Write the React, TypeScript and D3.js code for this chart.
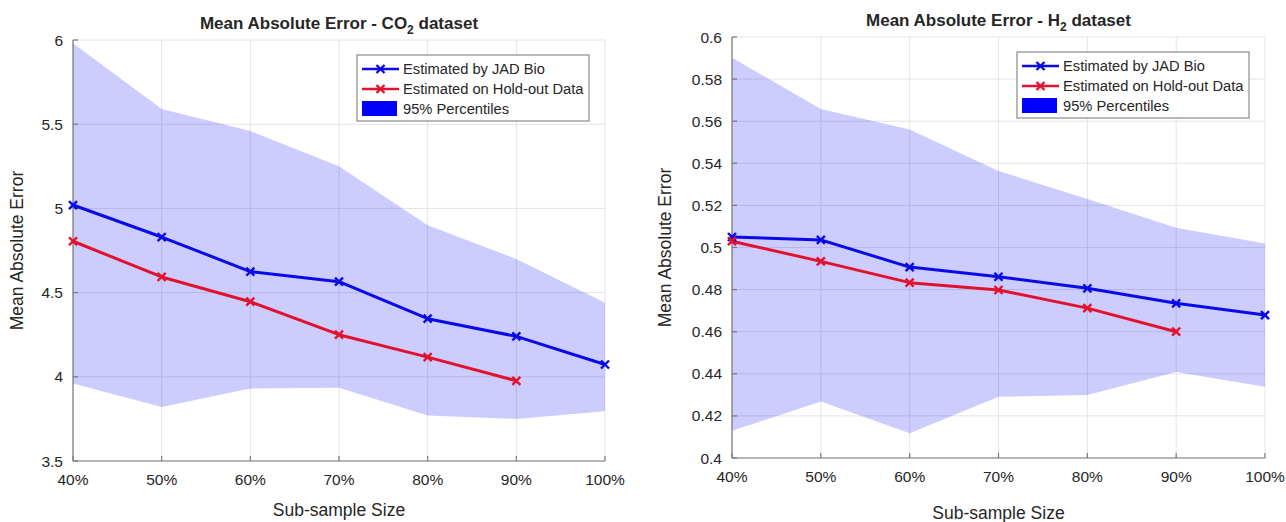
import React from 'react';
import * as d3 from 'd3';

const sizes = ['40%', '50%', '60%', '70%', '80%', '90%', '100%'];

const co2Jad = [5.02, 4.83, 4.625, 4.565, 4.345, 4.24, 4.073];
const co2Holdout = [4.805, 4.593, 4.446, 4.25, 4.117, 3.976];
const co2Upper = [5.98, 5.59, 5.46, 5.25, 4.9, 4.7, 4.44];
const co2Lower = [3.96, 3.82, 3.93, 3.935, 3.77, 3.75, 3.795];
const co2YTicks = [3.5, 4, 4.5, 5, 5.5, 6];

const h2Jad = [0.505, 0.5036, 0.4907, 0.4861, 0.4806, 0.4735, 0.4679];
const h2Holdout = [0.503, 0.4934, 0.4833, 0.4798, 0.4712, 0.46];
const h2Upper = [0.5902, 0.5658, 0.556, 0.5364, 0.523, 0.5094, 0.5019];
const h2Lower = [0.4129, 0.4269, 0.4118, 0.4291, 0.4299, 0.4408, 0.4338];
const h2YTicks = [0.4, 0.42, 0.44, 0.46, 0.48, 0.5, 0.52, 0.54, 0.56, 0.58, 0.6];

const legendLabels = ['Estimated by JAD Bio', 'Estimated on Hold-out Data', '95% Percentiles'];

const BLUE = '#0a0ae8';
const RED = '#e2122e';
const TEXT = '#262626';
const FONT = '"Liberation Sans", Arial, Helvetica, sans-serif';

type PanelProps = {
  x0: number; x1: number; y0: number; y1: number;
  ticks: number[];
  jad: number[]; hold: number[]; upper: number[]; lower: number[];
  sub: string;
  yTitleX: number;
  xTitleY: number;
  titleY: number;
};

function Marker({ x, y, color }: { x: number; y: number; color: string }) {
  const s = 4;
  return (
    <g stroke={color} strokeWidth={2.4}>
      <line x1={x - s} y1={y - s} x2={x + s} y2={y + s} />
      <line x1={x - s} y1={y + s} x2={x + s} y2={y - s} />
    </g>
  );
}

function Panel(p: PanelProps) {
  const x = d3.scalePoint<string>().domain(sizes).range([p.x0, p.x1]).padding(0);
  const y = d3.scaleLinear().domain([p.ticks[0], p.ticks[p.ticks.length - 1]]).range([p.y1, p.y0]);
  const area = d3.area<number>()
    .x((_, i) => x(sizes[i]) as number)
    .y0((_, i) => y(p.lower[i]))
    .y1((d) => y(d));
  const line = d3.line<number>()
    .x((_, i) => x(sizes[i]) as number)
    .y((d) => y(d));
  const cx = (p.x0 + p.x1) / 2;
  const cy = (p.y0 + p.y1) / 2;
  const lx = p.x1 - 16 - 232;
  const ly = p.y0 + 15;
  return (
    <g fontFamily={FONT}>
      {sizes.map((s) => (
        <line key={'gx' + s} x1={x(s)} x2={x(s)} y1={p.y0} y2={p.y1} stroke="#e4e4e4" strokeWidth={1} />
      ))}
      {p.ticks.map((t) => (
        <line key={'gy' + t} x1={p.x0} x2={p.x1} y1={y(t)} y2={y(t)} stroke="#e4e4e4" strokeWidth={1} />
      ))}
      <path d={area(p.upper) || ''} fill="#0000ff" fillOpacity={0.2} stroke="none" />
      <line x1={p.x0} x2={p.x1} y1={p.y1} y2={p.y1} stroke="#7a7a7a" strokeWidth={1.2} />
      <line x1={p.x0} x2={p.x0} y1={p.y0} y2={p.y1} stroke="#7a7a7a" strokeWidth={1.2} />
      {sizes.map((s) => (
        <line key={'tx' + s} x1={x(s)} x2={x(s)} y1={p.y1} y2={p.y1 - 5} stroke="#7a7a7a" strokeWidth={1.2} />
      ))}
      {p.ticks.map((t) => (
        <line key={'ty' + t} x1={p.x0} x2={p.x0 + 5} y1={y(t)} y2={y(t)} stroke="#7a7a7a" strokeWidth={1.2} />
      ))}
      {sizes.map((s) => (
        <text key={'lx' + s} x={x(s)} y={p.y1 + 24} textAnchor="middle" fontSize={15.5} fill={TEXT}>{s}</text>
      ))}
      {p.ticks.map((t) => (
        <text key={'ly' + t} x={p.x0 - 10} y={y(t) + 5.5} textAnchor="end" fontSize={15.5} fill={TEXT}>{String(t)}</text>
      ))}
      <path d={line(p.jad) || ''} fill="none" stroke={BLUE} strokeWidth={3} strokeLinejoin="round" />
      <path d={line(p.hold) || ''} fill="none" stroke={RED} strokeWidth={3} strokeLinejoin="round" />
      {p.jad.map((v, i) => <Marker key={'mj' + i} x={x(sizes[i]) as number} y={y(v)} color={BLUE} />)}
      {p.hold.map((v, i) => <Marker key={'mh' + i} x={x(sizes[i]) as number} y={y(v)} color={RED} />)}
      <text x={cx} y={p.titleY} textAnchor="middle" fontSize={17} fontWeight="bold" fill={TEXT}>
        Mean Absolute Error - {p.sub}
        <tspan fontSize={12} dy={5}>2</tspan>
        <tspan dy={-5}> dataset</tspan>
      </text>
      <text x={cx} y={p.xTitleY} textAnchor="middle" fontSize={17.5} fill={TEXT}>Sub-sample Size</text>
      <text transform={`translate(${p.yTitleX},${cy}) rotate(-90)`} textAnchor="middle" fontSize={17.5} fill={TEXT}>Mean Absolute Error</text>
      <rect x={lx} y={ly} width={232} height={66} fill="#ffffff" stroke="#8a8a8a" strokeWidth={1.2} />
      <line x1={lx + 5} x2={lx + 42} y1={ly + 14} y2={ly + 14} stroke={BLUE} strokeWidth={2.5} />
      <Marker x={lx + 23.5} y={ly + 14} color={BLUE} />
      <line x1={lx + 5} x2={lx + 42} y1={ly + 34} y2={ly + 34} stroke={RED} strokeWidth={2.5} />
      <Marker x={lx + 23.5} y={ly + 34} color={RED} />
      <rect x={lx + 5} y={ly + 46} width={35} height={15} fill="#0000ff" />
      {legendLabels.map((l, i) => (
        <text key={l} x={lx + 46} y={ly + 19 + i * 20} fontSize={14.7} fill={TEXT}>{l}</text>
      ))}
    </g>
  );
}

export default function App() {
  return (
    <svg width={1286} height={522} style={{ position: 'absolute', left: 0, top: 0, background: '#fff' }}>
      <rect width={1286} height={522} fill="#fff" />
      <Panel x0={73} x1={605} y0={40} y1={461} ticks={co2YTicks}
        jad={co2Jad} hold={co2Holdout} upper={co2Upper} lower={co2Lower}
        sub="CO" yTitleX={23} xTitleY={516} titleY={29} />
      <Panel x0={732} x1={1265} y0={37} y1={458} ticks={h2YTicks}
        jad={h2Jad} hold={h2Holdout} upper={h2Upper} lower={h2Lower}
        sub="H" yTitleX={671} xTitleY={519} titleY={26} />
    </svg>
  );
}
